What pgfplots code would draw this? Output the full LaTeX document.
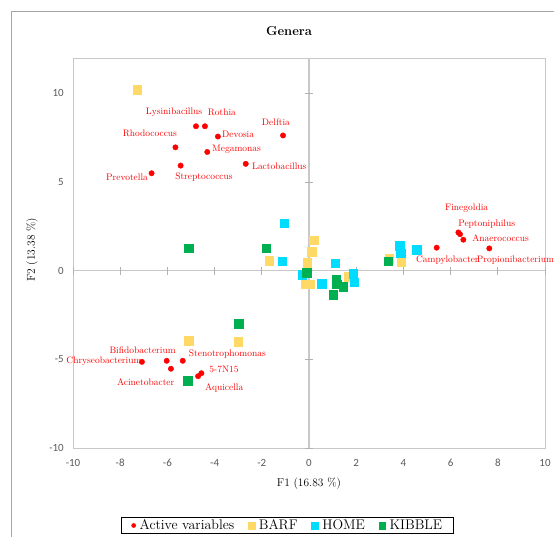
\documentclass[border=0pt]{standalone}
\usepackage{pgfplots}
\pgfplotsset{compat=1.18}
\usepackage{fontspec}
\newfontfamily\tickfont{Carlito}
\definecolor{barf}{HTML}{FFD966}
\definecolor{home}{HTML}{00DCFF}
\definecolor{kibble}{HTML}{00B050}
\definecolor{plotframe}{HTML}{C8C8C8}
\definecolor{ticktext}{HTML}{595959}
\definecolor{chartframe}{HTML}{A6A6A6}

\begin{document}
\begin{tikzpicture}
% canvas in pixel-like units (1 unit = 1bp, y downwards)
\useasboundingbox (0bp,0bp) rectangle (554bp,-537bp);
\begin{scope}[x=1bp,y=-1bp]
  \draw[chartframe, line width=0.8bp] (11,537) -- (11,11) -- (554,11);
  \node[font=\fontsize{13}{15}\selectfont\bfseries, inner sep=0] at (289,31) {Genera};
\end{scope}

\begin{axis}[
  at={(73bp,-448bp)}, anchor=south west,
  scale only axis, width=472bp, height=390bp,
  xmin=-10, xmax=10, ymin=-10, ymax=12,
  xtick={-10,-8,...,10}, ytick={-10,-5,0,5,10},
  major tick length=0pt,
  axis line style={draw=plotframe, line width=1bp},
  clip=false,
  /pgf/number format/assume math mode=true,
  tick label style={font=\tickfont\fontsize{11}{13}\selectfont, text=ticktext, inner sep=0pt},
  xticklabel style={anchor=center, yshift=-15bp},
  yticklabel style={anchor=east, xshift=-9bp},
  xlabel={F1 (16.83 \%)},
  ylabel={F2 (13.38 \%)},
  label style={font=\fontsize{11.5}{13}\selectfont},
  xlabel style={at={(axis description cs:0.5,-0.0923)}, anchor=center},
  ylabel style={at={(axis description cs:-0.0869,0.508)}, anchor=center},
  legend columns=4,
  legend style={at={(axis description cs:0.4544,-0.1987)}, anchor=center,
    draw=black, line width=0.6bp, inner xsep=10.5bp, inner ysep=0.5bp, row sep=0pt,
    font=\fontsize{14}{14}\selectfont,
    /tikz/every odd column/.append style={column sep=3bp},
    /tikz/every even column/.append style={column sep=13bp},
    nodes={inner xsep=1bp, inner ysep=1.5bp}},
  legend image code/.code={\draw[mark repeat=2,mark phase=2,#1]
      plot coordinates {(0bp,0bp) (4bp,0bp) (8bp,0bp)};},
]
% zero lines with their cross ticks
\draw[plotframe, line width=1.2bp] (axis cs:0,-10) -- (axis cs:0,12);
\draw[plotframe, line width=1.2bp] (axis cs:-10,0) -- (axis cs:10,0);
\pgfplotsinvokeforeach{-10,-8,-6,-4,-2,0,2,4,6,8,10}{
  \draw[gray!60, line width=0.8bp] (axis cs:#1,0) ++(0bp,-4bp) -- ++(0bp,8bp);
}
\pgfplotsinvokeforeach{-10,-5,0,5,10}{
  \draw[gray!60, line width=0.8bp] (axis cs:0,#1) ++(-4bp,0bp) -- ++(8bp,0bp);
}

% genera (active variables)
\addplot[only marks, mark=*, mark size=2.7bp, color=red,
  legend image post style={mark size=2bp}] coordinates {
  (-4.79,8.15) (-4.41,8.15) (-3.86,7.57) (-1.10,7.63) (-5.66,6.96)
  (-4.31,6.70) (-5.44,5.93) (-2.68,6.03) (-6.67,5.50)
  (6.33,2.16) (6.40,2.06) (6.54,1.75) (5.41,1.30) (7.64,1.26)
  (-7.08,-5.14) (-6.03,-5.08) (-5.35,-5.08) (-5.85,-5.53) (-4.56,-5.78) (-4.70,-5.95)
};
\addlegendentry{Active variables}

% samples by diet
\addplot[only marks, mark=square*, mark size=4.2bp, color=barf,
  legend image post style={mark size=3.3bp}] coordinates {
  (-7.29,10.22) (-5.10,-3.95) (-3.01,-4.00) (-1.69,0.56) (0.20,1.73) (0.11,1.07)
  (-0.07,0.45) (-0.14,-0.75) (0.06,-0.75) (1.69,-0.34) (3.40,0.69) (3.91,0.49)
};
\addlegendentry{BARF}
\addplot[only marks, mark=square*, mark size=4.2bp, color=home,
  legend image post style={mark size=3.3bp}] coordinates {
  (-1.06,2.69) (-1.14,0.53) (-0.28,-0.23) (0.54,-0.73) (1.10,0.41)
  (1.88,-0.17) (1.91,-0.66) (3.84,1.41) (3.88,0.98) (4.56,1.18)
};
\addlegendentry{HOME}
\addplot[only marks, mark=square*, mark size=4.2bp, color=kibble,
  legend image post style={mark size=3.3bp}] coordinates {
  (-5.10,1.28) (-1.81,1.28) (-0.10,-0.11) (1.16,-0.51) (1.17,-0.75)
  (1.45,-0.90) (1.03,-1.35) (3.35,0.55) (-2.98,-2.99) (-5.14,-6.21)
};
\addlegendentry{KIBBLE}

% genus names
\begin{scope}[every node/.style={text=red, inner sep=0pt, font=\fontsize{9.5}{11}\selectfont}]
\node at (axis cs:-5.72,8.93) {Lysinibacillus};
\node at (axis cs:-3.69,8.93) {Rothia};
\node at (axis cs:-1.40,8.40) {Delftia};
\node[anchor=west] at (axis cs:-3.69,7.69) {Devosia};
\node at (axis cs:-6.74,7.74) {Rhodococcus};
\node[anchor=west] at (axis cs:-4.11,6.86) {Megamonas};
\node[anchor=west] at (axis cs:-2.42,5.92) {Lactobacillus};
\node at (axis cs:-7.71,5.30) {Prevotella};
\node at (axis cs:-4.45,5.30) {Streptococcus};
\node at (axis cs:6.68,3.54) {Finegoldia};
\node at (axis cs:7.53,2.63) {Peptoniphilus};
\node at (axis cs:8.12,1.82) {Anaerococcus};
\node[anchor=west] at (axis cs:4.53,0.60) {Campylobacter};
\node[anchor=west] at (axis cs:7.11,0.60) {Propionibacterium};
\node at (axis cs:-7.05,-4.46) {Bifidobacterium};
\node[anchor=east] at (axis cs:-7.09,-5.09) {Chryseobacterium};
\node at (axis cs:-3.46,-4.68) {Stenotrophomonas};
\node at (axis cs:-3.60,-5.58) {5-7N15};
\node at (axis cs:-6.92,-6.28) {Acinetobacter};
\node at (axis cs:-3.59,-6.62) {Aquicella};
\end{scope}
\end{axis}
\end{tikzpicture}
\end{document}
